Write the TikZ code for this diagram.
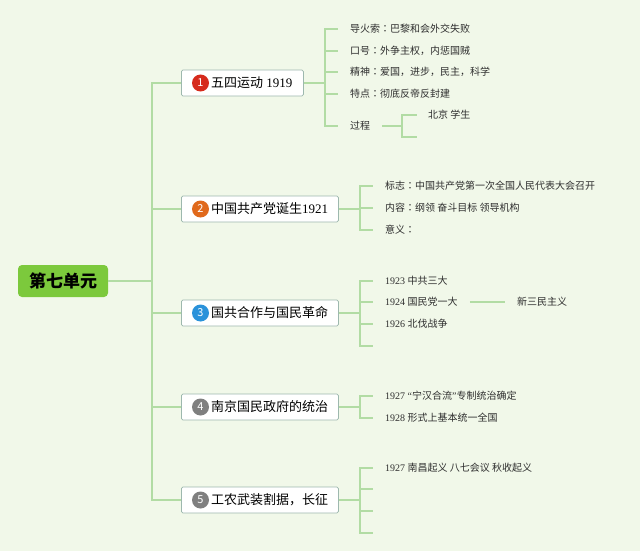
\documentclass[tikz,border=0pt]{standalone}
\usepackage{fontspec}
\setmainfont{Liberation Serif}
\newfontfamily\cjk{Noto Sans CJK SC}
\newfontfamily\cjktc{Noto Sans CJK TC}
\newcommand{\cco}{{\cjktc ：}}
\definecolor{bgc}{HTML}{F1F8E9}
\definecolor{linec}{HTML}{B2DCA4}
\definecolor{boxb}{HTML}{9DB8AE}
\definecolor{rootc}{HTML}{7CC93C}
\definecolor{bred}{HTML}{D62A1C}
\definecolor{borange}{HTML}{E0691C}
\definecolor{bblue}{HTML}{2A92DA}
\definecolor{bgray}{HTML}{7F7F7F}
\definecolor{txt}{HTML}{2E2E2E}
\begin{document}
\begin{tikzpicture}[x=1pt,y=-1pt,
  conn/.style={draw=linec,line width=1.1pt},
  topicbox/.style={draw=boxb,fill=white,line width=0.8pt,rounded corners=1.5pt,minimum height=26pt,inner sep=0pt,anchor=west},
  badge/.style={circle,fill=#1,text=white,inner sep=0pt,minimum size=17pt,font=\cjk\fontsize{11}{11}\selectfont},
  topictext/.style={anchor=west,inner sep=0pt,text=black,font=\fontsize{13}{15}\selectfont},
  leaf/.style={anchor=west,inner sep=0pt,text=txt,font=\fontsize{10}{12}\selectfont}]
\fill[bgc] (0,0) rectangle (640,551);
% root
\node[fill=rootc,rounded corners=4pt,minimum width=90pt,minimum height=32pt,inner sep=0pt,font=\cjk\bfseries\fontsize{17}{19}\selectfont] (root) at (63,281) {第七单元};
\coordinate (tk) at (152,281);
\draw[conn] (root.east) -- (tk);
% topics
\node[topicbox,minimum width=122pt] (n1) at (181,83) {};
\node[topicbox,minimum width=157pt] (n2) at (181,209) {};
\node[topicbox,minimum width=157pt] (n3) at (181,313) {};
\node[topicbox,minimum width=157pt] (n4) at (181,407) {};
\node[topicbox,minimum width=157pt] (n5) at (181,500) {};
\foreach \n in {n1,n2,n3,n4,n5} {\draw[conn] (tk) |- (\n.west);}
\node[badge=bred] (g1) at ([xshift=19.5pt]n1.west) {1};
\node[badge=borange] (g2) at ([xshift=19.5pt]n2.west) {2};
\node[badge=bblue] (g3) at ([xshift=19.5pt]n3.west) {3};
\node[badge=bgray] (g4) at ([xshift=19.5pt]n4.west) {4};
\node[badge=bgray] (g5) at ([xshift=19.5pt]n5.west) {5};
\node[topictext] (t1) at ([xshift=30pt]n1.west) {{\cjk 五四运动} 1919};
\node[topictext] (t2) at ([xshift=30pt]n2.west) {{\cjk 中国共产党诞生}1921};
\node[topictext] (t3) at ([xshift=30pt]n3.west) {\cjk 国共合作与国民革命};
\node[topictext] (t4) at ([xshift=30pt]n4.west) {\cjk 南京国民政府的统治};
\node[topictext] (t5) at ([xshift=30pt]n5.west) {\cjk 工农武装割据，长征};
% topic 1 leaves
\coordinate (b1) at (325,83);
\draw[conn] (n1.east) -- (b1);
\node[leaf] (l11) at (350,29) {\cjk 导火索\cco 巴黎和会外交失败};
\node[leaf] (l12) at (350,51) {\cjk 口号\cco 外争主权，内惩国贼};
\node[leaf] (l13) at (350,72) {\cjk 精神\cco 爱国，进步，民主，科学};
\node[leaf] (l14) at (350,94) {\cjk 特点\cco 彻底反帝反封建};
\node[leaf] (l15) at (350,126) {\cjk 过程};
\foreach \l in {l11,l12,l13,l14,l15} {\draw[conn] (b1) |- ([xshift=-12pt]\l.west);}
\coordinate (b15) at (402,126);
\draw[conn] ([xshift=12pt]l15.east) -- (b15);
\node[leaf] (l151) at (428,115) {\cjk 北京 学生};
\coordinate (e152) at (417,137);
\draw[conn] (b15) |- ([xshift=-11pt]l151.west);
\draw[conn] (b15) |- (e152);
% topic 2 leaves
\coordinate (b2) at (360,209);
\draw[conn] (n2.east) -- (b2);
\node[leaf] (l21) at (385,186) {\cjk 标志\cco 中国共产党第一次全国人民代表大会召开};
\node[leaf] (l22) at (385,208) {\cjk 内容\cco 纲领 奋斗目标 领导机构};
\node[leaf] (l23) at (385,230) {\cjk 意义\cco};
\foreach \l in {l21,l22,l23} {\draw[conn] (b2) |- ([xshift=-12pt]\l.west);}
% topic 3 leaves
\coordinate (b3) at (360,313);
\draw[conn] (n3.east) -- (b3);
\node[leaf] (l31) at (385,281) {1923 {\cjk 中共三大}};
\node[leaf] (l32) at (385,302) {1924 {\cjk 国民党一大}};
\node[leaf] (l33) at (385,324) {1926 {\cjk 北伐战争}};
\coordinate (e34) at (373,346);
\foreach \l in {l31,l32,l33} {\draw[conn] (b3) |- ([xshift=-12pt]\l.west);}
\draw[conn] (b3) |- (e34);
\node[leaf] (l321) at (517,302) {\cjk 新三民主义};
\draw[conn] ([xshift=12pt]l32.east) -- ([xshift=-12pt]l321.west);
% topic 4 leaves
\coordinate (b4) at (360,407);
\draw[conn] (n4.east) -- (b4);
\node[leaf] (l41) at (385,396) {1927 “{\cjk 宁汉合流}”{\cjk 专制统治确定}};
\node[leaf] (l42) at (385,418) {1928 {\cjk 形式上基本统一全国}};
\foreach \l in {l41,l42} {\draw[conn] (b4) |- ([xshift=-12pt]\l.west);}
% topic 5 leaves
\coordinate (b5) at (360,500);
\draw[conn] (n5.east) -- (b5);
\node[leaf] (l51) at (385,468) {1927 {\cjk 南昌起义 八七会议 秋收起义}};
\coordinate (e52) at (373,489);
\coordinate (e53) at (373,511);
\coordinate (e54) at (373,533);
\draw[conn] (b5) |- ([xshift=-12pt]l51.west);
\foreach \e in {e52,e53,e54} {\draw[conn] (b5) |- (\e);}
\end{tikzpicture}
\end{document}
